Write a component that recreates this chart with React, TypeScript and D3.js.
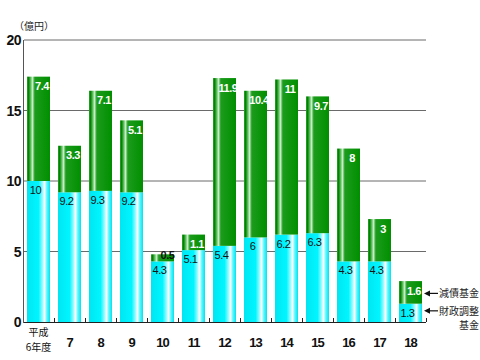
import { useRef, useEffect } from 'react';
import * as d3 from 'd3';

const years = ['6', '7', '8', '9', '10', '11', '12', '13', '14', '15', '16', '17', '18'];
const adjustFund = [10, 9.2, 9.3, 9.2, 4.3, 5.1, 5.4, 6, 6.2, 6.3, 4.3, 4.3, 1.3];
const debtFund = [7.4, 3.3, 7.1, 5.1, 0.5, 1.1, 11.9, 10.4, 11, 9.7, 8, 3, 1.6];
const yTicks = [0, 5, 10, 15, 20];

export default function App() {
  const svgRef = useRef<SVGSVGElement>(null);

  useEffect(() => {
    if (!svgRef.current) return;
    const svg = d3.select(svgRef.current);
    svg.selectAll('*').remove();
    const font = '"Liberation Sans", Arial, sans-serif';
    const jp = '"Noto Sans CJK JP", sans-serif';

    const x = d3.scaleBand<string>().domain(years).range([23, 426]).paddingInner(0.258).paddingOuter(0.129);
    const y = d3.scaleLinear().domain([0, 20]).range([322, 40]);
    const bw = x.bandwidth();
    const gap = x.step() - bw;

    const defs = svg.append('defs');
    const cyan = defs.append('linearGradient').attr('id', 'cyanGrad');
    [
      [0, '#00e6f2'], [0.5, '#00f6ff'], [0.68, '#9ffcff'], [0.76, '#ffffff'], [0.86, '#5ff9ff'], [1, '#00e2ef'],
    ].forEach(([o, c]) => cyan.append('stop').attr('offset', o as number).attr('stop-color', c as string));
    const green = defs.append('linearGradient').attr('id', 'greenGrad');
    [
      [0, '#2aa82a'], [0.07, '#007f00'], [0.16, '#5cc05c'], [0.24, '#c8ecc8'], [0.34, '#1c9c1c'], [1, '#008f00'],
    ].forEach(([o, c]) => green.append('stop').attr('offset', o as number).attr('stop-color', c as string));
    defs.append('filter').attr('id', 'soft').attr('x', '-5%').attr('y', '-200%').attr('width', '110%').attr('height', '500%')
      .append('feGaussianBlur').attr('stdDeviation', 3);

    // gridlines with soft shadow
    svg.append('g').selectAll('line').data(yTicks.filter((d) => d > 0)).join('line')
      .attr('x1', 26).attr('x2', 432).attr('y1', (d) => y(d) + 5).attr('y2', (d) => y(d) + 5)
      .attr('stroke', '#dedede').attr('stroke-width', 7).attr('filter', 'url(#soft)');
    svg.append('g').selectAll('line').data(yTicks.filter((d) => d > 0)).join('line')
      .attr('x1', 24).attr('x2', 426).attr('y1', (d) => y(d)).attr('y2', (d) => y(d))
      .attr('stroke', '#6a6a6a').attr('stroke-width', 1);

    // baseline and ticks between bars
    svg.append('line').attr('x1', 24).attr('x2', 426).attr('y1', y(0) + 0.5).attr('y2', y(0) + 0.5)
      .attr('stroke', '#222').attr('stroke-width', 1);
    svg.append('g').selectAll('line').data(years).join('line')
      .attr('x1', (d) => Math.round(x(d)! + bw + gap / 2) + 0.5).attr('x2', (d) => Math.round(x(d)! + bw + gap / 2) + 0.5)
      .attr('y1', y(0) - 4).attr('y2', y(0))
      .attr('stroke', '#222');

    // y axis
    svg.append('line').attr('x1', 23.5).attr('x2', 23.5).attr('y1', y(20)).attr('y2', y(0) + 1)
      .attr('stroke', '#555');
    svg.append('g').selectAll('text').data(yTicks).join('text')
      .attr('x', 21).attr('y', (d) => y(d) + 5).attr('text-anchor', 'end')
      .attr('font-family', font).attr('font-size', 14).attr('font-weight', 'bold').attr('letter-spacing', -0.5)
      .attr('fill', '#111').text((d) => d);
    svg.append('text').attr('x', 14).attr('y', 30).attr('font-family', jp).attr('font-size', 10)
      .attr('fill', '#222').text('（億円）');

    // bars
    const bars = svg.append('g').selectAll('g').data(years).join('g');
    bars.append('rect')
      .attr('x', (d) => x(d)!).attr('width', bw)
      .attr('y', (_, i) => y(adjustFund[i])).attr('height', (_, i) => y(0) - y(adjustFund[i]))
      .attr('fill', 'url(#cyanGrad)');
    bars.append('rect')
      .attr('x', (d) => x(d)!).attr('width', bw)
      .attr('y', (_, i) => y(adjustFund[i] + debtFund[i]))
      .attr('height', (_, i) => y(adjustFund[i]) - y(adjustFund[i] + debtFund[i]))
      .attr('fill', 'url(#greenGrad)');

    // value labels
    bars.append('text')
      .attr('x', (d) => x(d)! + bw / 2 - 3).attr('y', (_, i) => y(adjustFund[i]) + 13)
      .attr('text-anchor', 'middle').attr('font-family', font).attr('font-size', 11).attr('letter-spacing', -0.4)
      .attr('fill', '#111').text((_, i) => adjustFund[i]);
    bars.append('text')
      .attr('x', (d, i) => {
        const small = y(adjustFund[i]) - y(adjustFund[i] + debtFund[i]) < 12;
        return x(d)! + bw / 2 + (small ? 5 : 3.5);
      })
      .attr('y', (_, i) => {
        const top = y(adjustFund[i] + debtFund[i]);
        const small = y(adjustFund[i]) - top < 12;
        return small ? y(adjustFund[i]) - 2 : top + 13.5;
      })
      .attr('text-anchor', 'middle').attr('font-family', font).attr('font-size', 11).attr('font-weight', 'bold')
      .attr('letter-spacing', -0.5)
      .attr('fill', (_, i) => (y(adjustFund[i]) - y(adjustFund[i] + debtFund[i]) < 12 ? '#111' : '#fff'))
      .text((_, i) => debtFund[i]);

    // x labels
    svg.append('g').selectAll('text').data(years.slice(1)).join('text')
      .attr('x', (d) => x(d)! + bw / 2).attr('y', 347).attr('text-anchor', 'middle')
      .attr('font-family', font).attr('font-size', 13).attr('font-weight', 'bold').attr('letter-spacing', -1)
      .attr('fill', '#111').text((d) => d);
    const c0 = x(years[0])! + bw / 2;
    svg.append('text').attr('x', c0).attr('y', 336).attr('text-anchor', 'middle').attr('font-family', jp)
      .attr('font-size', 10).attr('fill', '#111').text('平成');
    svg.append('text').attr('x', c0).attr('y', 350.5).attr('text-anchor', 'middle').attr('font-family', jp)
      .attr('font-size', 10).attr('fill', '#111').text(`${years[0]}年度`);

    // legend annotations
    const lastX = x(years[years.length - 1])! + bw;
    const legend = [
      { y: y(adjustFund[12] + debtFund[12] / 2) + 1, lines: ['減債基金'] },
      { y: y(adjustFund[12] / 2) - 2, lines: ['財政調整', '基金'] },
    ];
    legend.forEach((l) => {
      svg.append('line').attr('x1', lastX + 6).attr('x2', lastX + 16).attr('y1', l.y).attr('y2', l.y)
        .attr('stroke', '#111').attr('stroke-width', 1.2);
      svg.append('path').attr('d', `M${lastX + 2},${l.y} l6,-3 l0,6 z`).attr('fill', '#111');
      l.lines.forEach((s, k) => {
        svg.append('text').attr('x', 479).attr('y', l.y + 4 + k * 14.5).attr('text-anchor', 'end')
          .attr('font-family', jp).attr('font-size', 10).attr('fill', '#222').text(s);
      });
    });
  }, []);

  return <svg ref={svgRef} width={480} height={360} style={{ position: 'absolute', left: 0, top: 0, background: '#fff' }} />;
}
